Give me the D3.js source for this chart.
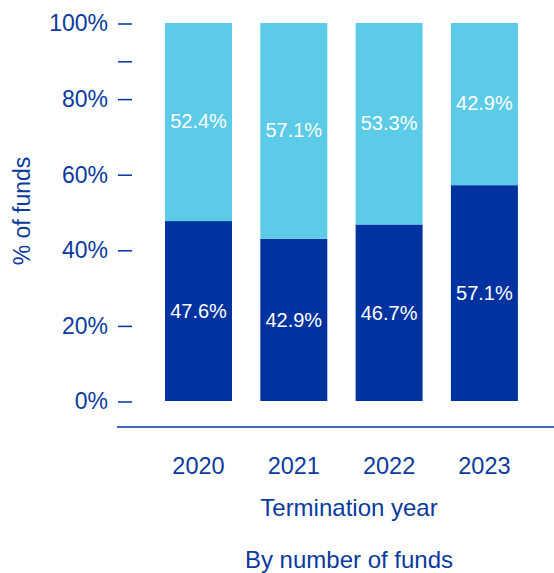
<!DOCTYPE html>
<html>
<head>
<meta charset="utf-8">
<script src="https://cdn.jsdelivr.net/npm/d3@7"></script>
<style>
  html, body { margin: 0; padding: 0; background: #fff; }
  svg { display: block; font-family: "Liberation Sans", Arial, sans-serif; }
</style>
</head>
<body>
<svg id="chart" width="554" height="573"></svg>
<script>
// Share of terminated funds per year, split into two groups (percent)
const years = ["2020", "2021", "2022", "2023"];
const lowerShare = [47.6, 42.9, 46.7, 57.1];
const upperShare = [52.4, 57.1, 53.3, 42.9];
const yTickValues = [0, 20, 40, 60, 80, 90, 100];
const yTickLabels = ["0%", "20%", "40%", "60%", "80%", "", "100%"];

const darkBlue = "#0033a0";
const lightBlue = "#5bcbe8";
const textBlue = "#0a3a9e";

const svg = d3.select("#chart");

const x = d3.scaleBand()
  .domain(years)
  .range([136.7, 546.2])
  .paddingInner(0.297)
  .paddingOuter(0.297);

const y = d3.scaleLinear().domain([0, 100]).range([401, 23]);

const rows = years.map((yr, i) => ({ year: yr, lower: lowerShare[i], upper: upperShare[i] }));

// lower segment
svg.append("g").selectAll("rect")
  .data(rows).join("rect")
  .attr("x", d => x(d.year))
  .attr("width", x.bandwidth())
  .attr("y", d => y(d.lower))
  .attr("height", d => y(0) - y(d.lower))
  .attr("fill", darkBlue);

// upper segment stacked on top
svg.append("g").selectAll("rect")
  .data(rows).join("rect")
  .attr("x", d => x(d.year))
  .attr("width", x.bandwidth())
  .attr("y", d => y(d.lower + d.upper))
  .attr("height", d => y(d.lower) - y(d.lower + d.upper))
  .attr("fill", lightBlue);

// value labels
const labels = svg.append("g")
  .attr("font-size", 20)
  .attr("fill", "#fff")
  .attr("text-anchor", "middle")
  .attr("dominant-baseline", "central");
labels.selectAll("text.lo")
  .data(rows).join("text").attr("class", "lo")
  .attr("x", d => x(d.year) + x.bandwidth() / 2)
  .attr("y", d => (y(0) + y(d.lower)) / 2)
  .text(d => d.lower.toFixed(1) + "%");
labels.selectAll("text.up")
  .data(rows).join("text").attr("class", "up")
  .attr("x", d => x(d.year) + x.bandwidth() / 2)
  .attr("y", d => (y(d.lower) + y(d.lower + d.upper)) / 2 - 1)
  .text(d => d.upper.toFixed(1) + "%");

// y axis: ticks only, no domain line
const yAxis = d3.axisLeft(y)
  .tickValues(yTickValues)
  .tickSize(14)
  .tickPadding(10)
  .tickFormat((d, i) => yTickLabels[i]);
const gy = svg.append("g").attr("transform", "translate(132,0.5)").call(yAxis);
gy.select(".domain").remove();
gy.selectAll(".tick line").attr("stroke", darkBlue).attr("stroke-width", 1.5);
gy.selectAll(".tick text")
  .attr("fill", textBlue)
  .attr("font-size", 23)
  .attr("font-family", "'Liberation Sans', Arial, sans-serif");

// x axis: baseline rule with category labels
const xAxis = d3.axisBottom(x).tickSize(0).tickPadding(30);
const gx = svg.append("g").attr("transform", "translate(0,427)").call(xAxis);
gx.select(".domain").remove();
gx.append("line")
  .attr("x1", 117).attr("x2", 554)
  .attr("stroke", darkBlue).attr("stroke-width", 1.5);
gx.selectAll(".tick text")
  .attr("fill", textBlue)
  .attr("font-size", 23.5)
  .attr("font-family", "'Liberation Sans', Arial, sans-serif");

// titles
svg.append("text")
  .attr("transform", "translate(22,211) rotate(-90)")
  .attr("text-anchor", "middle")
  .attr("dominant-baseline", "central")
  .attr("font-size", 23)
  .attr("fill", textBlue)
  .text("% of funds");

svg.append("text")
  .attr("x", 349).attr("y", 507)
  .attr("text-anchor", "middle")
  .attr("dominant-baseline", "central")
  .attr("font-size", 24)
  .attr("fill", textBlue)
  .text("Termination year");

svg.append("text")
  .attr("x", 349).attr("y", 559)
  .attr("text-anchor", "middle")
  .attr("dominant-baseline", "central")
  .attr("font-size", 24)
  .attr("fill", textBlue)
  .text("By number of funds");
</script>
</body>
</html>
